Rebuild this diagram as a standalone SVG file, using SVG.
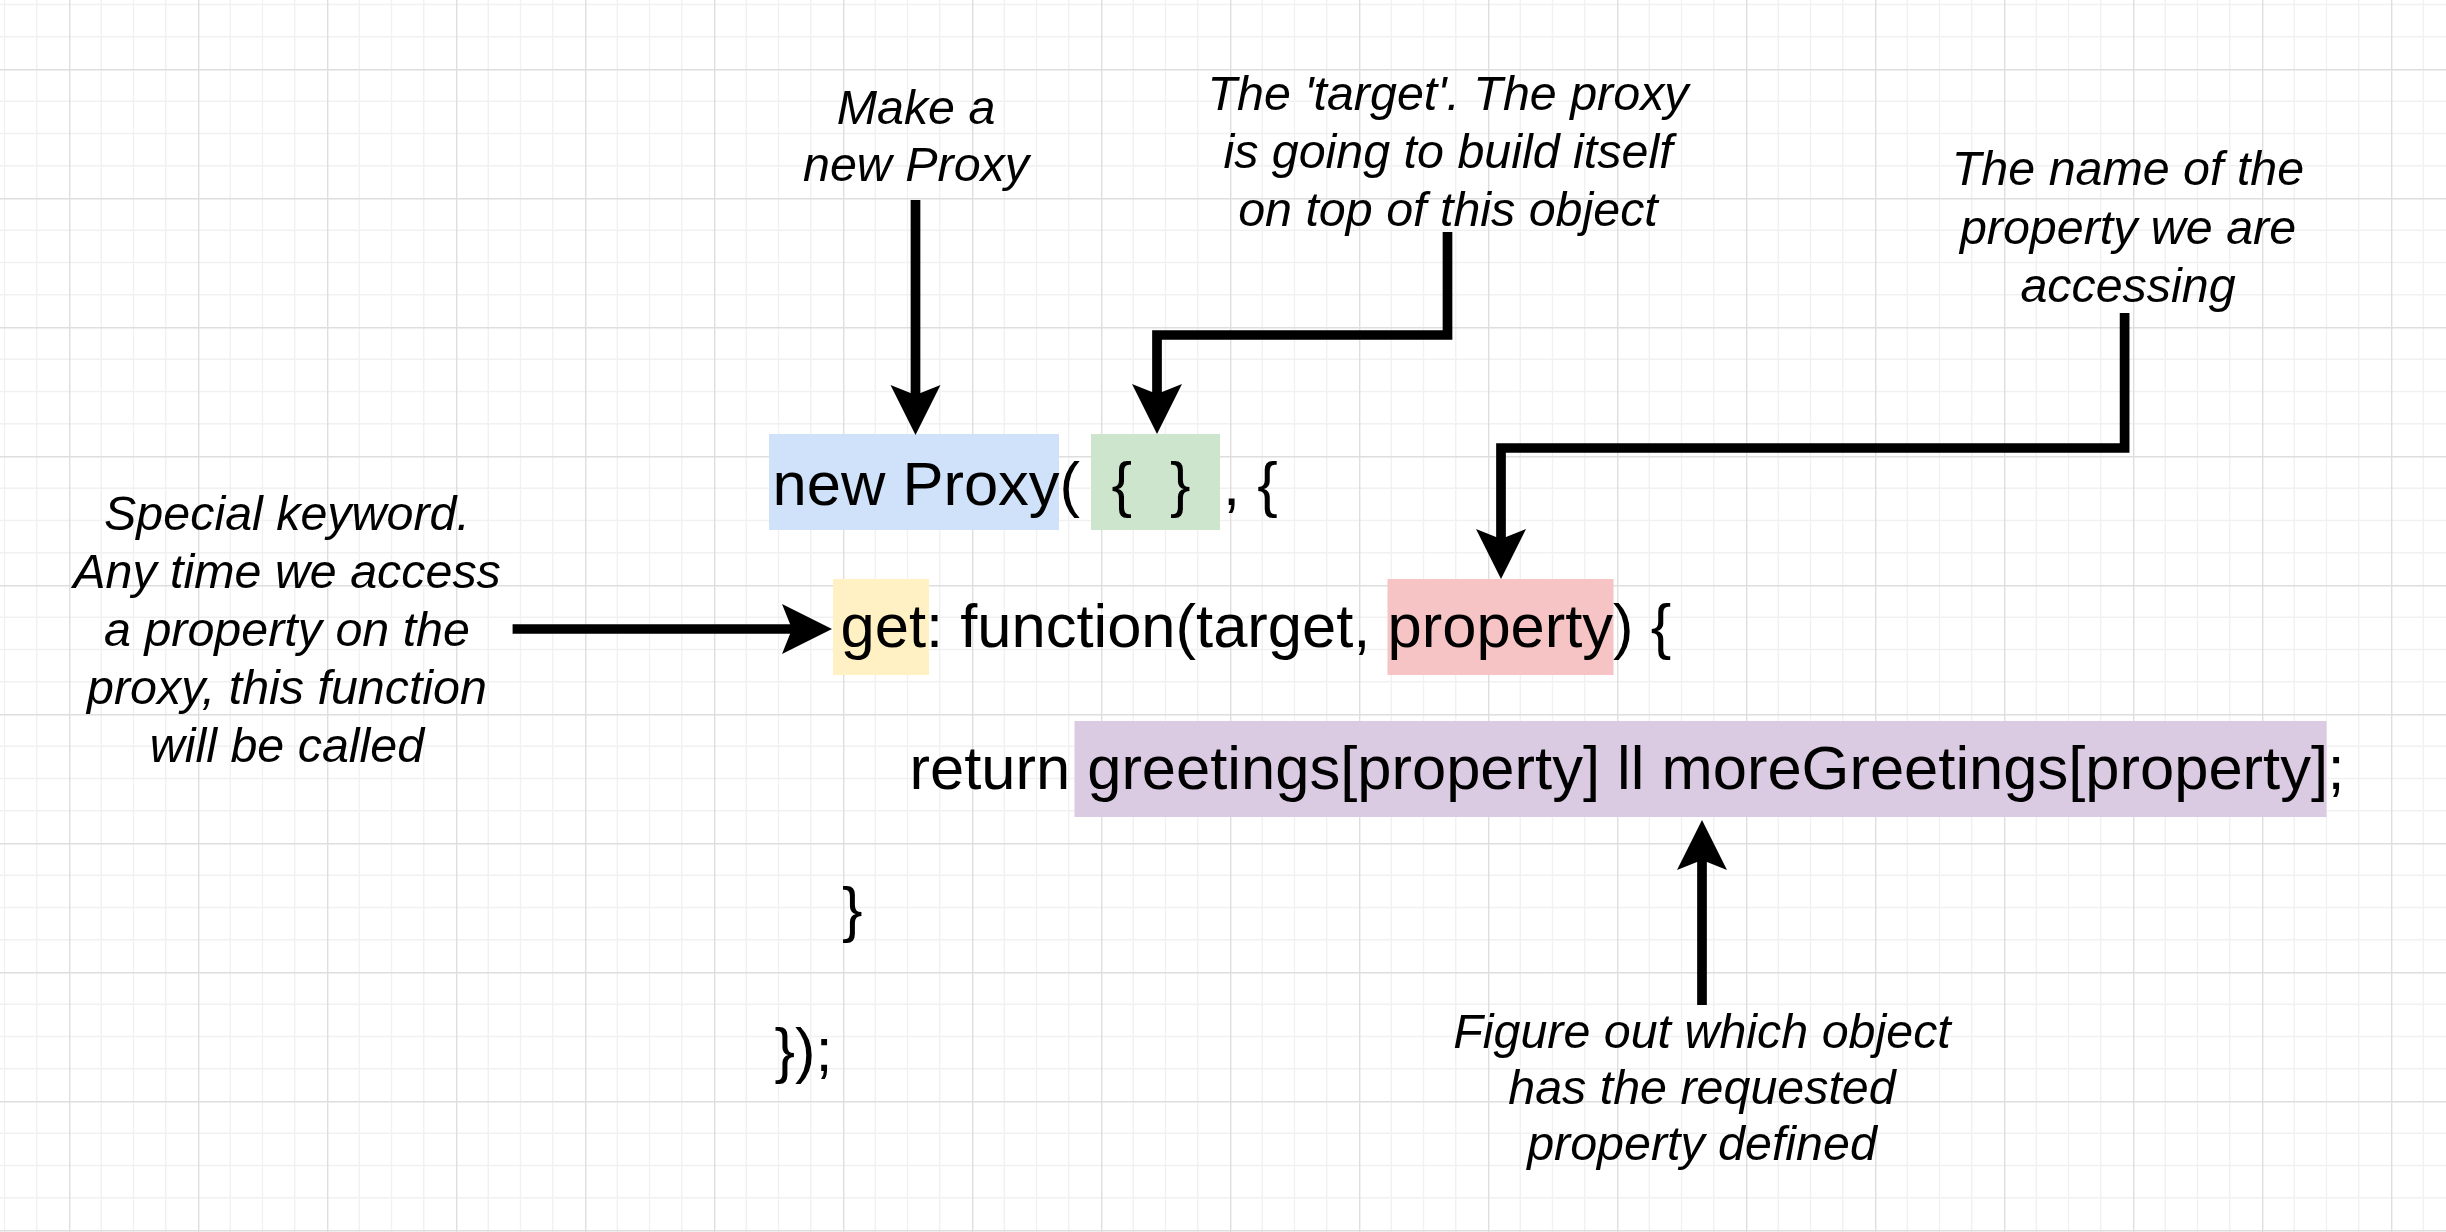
<svg xmlns="http://www.w3.org/2000/svg" width="2446" height="1232" viewBox="0 0 2446 1232">
<style>
.code{font-family:"Liberation Sans",Arial,Helvetica,sans-serif;font-size:61.5px;fill:#000}
.note{font-family:"Liberation Sans",Arial,Helvetica,sans-serif;font-size:48.4px;font-style:italic;fill:#000;text-anchor:middle}
.conn{fill:none;stroke:#000;stroke-width:9.7;stroke-linejoin:miter;stroke-linecap:butt;marker-end:url(#arrow)}
.minor{stroke:#f1f1f1;stroke-width:1.4}
.major{stroke:#dedede;stroke-width:1.4}
</style>
<defs>
<marker id="arrow" markerUnits="userSpaceOnUse" markerWidth="50" markerHeight="50" viewBox="0 0 50 50" refX="10" refY="25" orient="auto" overflow="visible">
<path d="M0,0 L50,25 L0,50 L10,25 Z" fill="#000"/>
</marker>
<pattern id="grid" x="69" y="69" width="129" height="129" patternUnits="userSpaceOnUse">
<line class="minor" x1="32.25" y1="0" x2="32.25" y2="129"/>
<line class="minor" x1="64.5" y1="0" x2="64.5" y2="129"/>
<line class="minor" x1="96.75" y1="0" x2="96.75" y2="129"/>
<line class="minor" x1="0" y1="32.25" x2="129" y2="32.25"/>
<line class="minor" x1="0" y1="64.5" x2="129" y2="64.5"/>
<line class="minor" x1="0" y1="96.75" x2="129" y2="96.75"/>
<line class="major" x1="0.7" y1="0" x2="0.7" y2="129"/>
<line class="major" x1="0" y1="0.7" x2="129" y2="0.7"/>
</pattern>
</defs>
<rect width="2446" height="1232" fill="#fff"/>
<rect width="2446" height="1232" fill="url(#grid)"/>

<g id="node-new-proxy">
<rect x="769" y="434" width="290" height="96" fill="#d0e2fa"/>
<text class="code" x="772.5" y="505">new Proxy(</text>
</g>
<g id="node-target">
<rect x="1091" y="434" width="129" height="96" fill="#cce5cc"/>
<text class="code" x="1111.5" y="505">{</text>
<text class="code" x="1170" y="505">}</text>
</g>
<g id="node-comma">
<text class="code" x="1223" y="505">, {</text>
</g>
<g id="node-get">
<rect x="833" y="579" width="96" height="96" fill="#fff1c4"/>
<text class="code" x="840.5" y="646.5">get</text>
</g>
<g id="node-function">
<text class="code" x="926" y="646.5">: function(target,</text>
</g>
<g id="node-property">
<rect x="1387.5" y="579" width="226" height="96" fill="#f6c4c4"/>
<text class="code" x="1387.5" y="646.5">property</text>
</g>
<g id="node-close-paren">
<text class="code" x="1613.1" y="646.5">) {</text>
</g>
<g id="node-return">
<text class="code" x="909.5" y="788.5">return</text>
</g>
<g id="node-lookup">
<rect x="1074.5" y="721" width="1252" height="96" fill="#dacae2"/>
<text class="code" x="1087.2" y="788.5">greetings[property] ll moreGreetings[property]</text>
<text class="code" x="2327.5" y="788.5">;</text>
</g>
<g id="node-close-fn">
<text class="code" x="842" y="929.5">}</text>
</g>
<g id="node-close-all">
<text class="code" x="774.5" y="1071">});</text>
</g>

<g id="note-make">
<text class="note" x="916" y="123.5">Make a</text>
<text class="note" x="916" y="181">new Proxy</text>
</g>
<g id="note-target">
<text class="note" x="1448" y="110">The 'target'. The proxy</text>
<text class="note" x="1448" y="168">is going to build itself</text>
<text class="note" x="1448" y="226">on top of this object</text>
</g>
<g id="note-name">
<text class="note" x="2128" y="185">The name of the</text>
<text class="note" x="2128" y="243.5">property we are</text>
<text class="note" x="2128" y="302">accessing</text>
</g>
<g id="note-keyword">
<text class="note" x="287" y="530">Special keyword.</text>
<text class="note" x="287" y="588">Any time we access</text>
<text class="note" x="287" y="646">a property on the</text>
<text class="note" x="287" y="704">proxy, this function</text>
<text class="note" x="287" y="762">will be called</text>
</g>
<g id="note-figure">
<text class="note" x="1702" y="1048">Figure out which object</text>
<text class="note" x="1702" y="1104">has the requested</text>
<text class="note" x="1702" y="1160">property defined</text>
</g>

<g id="connectors">
<path class="conn" d="M915.5 200 V395"/>
<path class="conn" d="M1447.5 232 V335 H1157 V394"/>
<path class="conn" d="M2124.6 313 V448 H1501 V539"/>
<path class="conn" d="M512.6 629 H792"/>
<path class="conn" d="M1702 1005 V860"/>
</g>
</svg>
